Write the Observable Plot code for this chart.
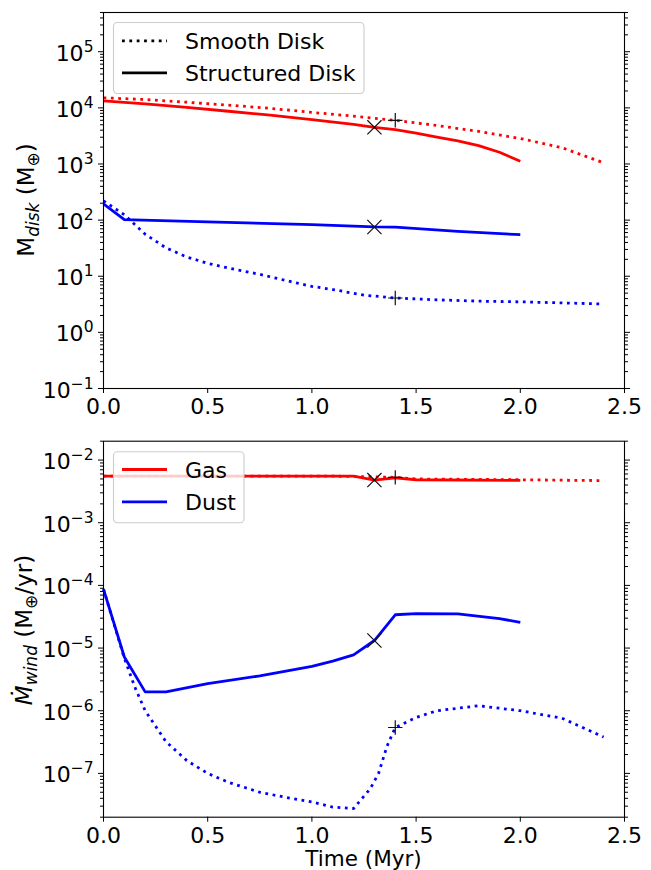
<!DOCTYPE html>
<html><head><meta charset="utf-8">
<script src="https://cdn.jsdelivr.net/npm/d3@7"></script>
<script src="https://cdn.jsdelivr.net/npm/@observablehq/plot@0.6"></script>
<style>
body{margin:0;background:#fff;font-family:"DejaVu Sans",sans-serif}
svg{display:block}
</style>
</head><body><div id="chart"></div>
<script>
// ---------- data ----------
const xTicks = [0, 0.5, 1.0, 1.5, 2.0, 2.5];
const topMajor = [1e-1, 1e0, 1e1, 1e2, 1e3, 1e4, 1e5];
const topDecades = [-1, 0, 1, 2, 3, 4, 5];
const botMajor = [1e-7, 1e-6, 1e-5, 1e-4, 1e-3, 1e-2];
const botDecades = [-8, -7, -6, -5, -4, -3, -2];

// top panel: disk mass
const topGasSmoothT = [0, 0.2, 0.4, 0.6, 0.8, 1.0, 1.2, 1.4, 1.6, 1.8, 2.0, 2.2, 2.4];
const topGasSmoothV = [15100, 14100, 12600, 11200, 9800, 8300, 7100, 6000, 4850, 3800, 2850, 1950, 1050];
const topGasStructT = [0, 0.2, 0.4, 0.6, 0.8, 1.0, 1.2, 1.3, 1.4, 1.5, 1.6, 1.7, 1.8, 1.9, 2.0];
const topGasStructV = [13300, 11750, 10200, 8700, 7400, 6200, 5100, 4500, 4100, 3560, 3020, 2570, 2130, 1620, 1120];
const topDustSmoothT = [0, 0.1, 0.2, 0.3, 0.4, 0.5, 0.6, 0.75, 0.9, 1.0, 1.1, 1.25, 1.4, 1.6, 1.8, 2.0, 2.2, 2.4];
const topDustSmoothV = [220, 125, 56, 32, 22, 17, 14, 10.8, 8, 6.6, 5.8, 4.6, 4.1, 3.8, 3.6, 3.5, 3.35, 3.2];
const topDustStructT = [0, 0.1, 0.5, 1.0, 1.3, 1.4, 1.7, 2.0];
const topDustStructV = [195, 102, 93, 83, 75.5, 75, 63, 55];
const topTimesT = [1.3, 1.3];
const topTimesV = [4500, 75.5];
const topPlusT = [1.4, 1.4];
const topPlusV = [6000, 4.1];

// bottom panel: wind rate
const botGasSmoothT = [0, 0.5, 1.0, 1.2, 1.3, 1.4, 1.5, 2.0, 2.4];
const botGasSmoothV = [5.55e-3, 5.55e-3, 5.55e-3, 5.5e-3, 5.4e-3, 5.3e-3, 5.0e-3, 4.85e-3, 4.7e-3];
const botGasStructT = [0, 0.5, 1.0, 1.2, 1.3, 1.4, 1.5, 2.0];
const botGasStructV = [5.55e-3, 5.55e-3, 5.55e-3, 5.55e-3, 4.8e-3, 5.2e-3, 4.85e-3, 4.75e-3];
const botDustStructT = [0, 0.1, 0.2, 0.3, 0.5, 0.75, 1.0, 1.1, 1.2, 1.3, 1.4, 1.5, 1.7, 1.9, 2.0];
const botDustStructV = [8.7e-5, 7.2e-6, 2.0e-6, 2.0e-6, 2.7e-6, 3.6e-6, 5.1e-6, 6.2e-6, 7.8e-6, 1.32e-5, 3.4e-5, 3.55e-5, 3.5e-5, 2.95e-5, 2.57e-5];
const botDustSmoothT = [0, 0.1, 0.15, 0.2, 0.3, 0.4, 0.5, 0.6, 0.75, 0.9, 1.0, 1.1, 1.2, 1.28, 1.32, 1.36, 1.4, 1.5, 1.6, 1.8, 2.0, 2.2, 2.4];
const botDustSmoothV = [8.7e-5, 6.9e-6, 2.4e-6, 1.0e-6, 3.2e-7, 1.6e-7, 1.0e-7, 7.2e-8, 5.0e-8, 4.0e-8, 3.5e-8, 2.9e-8, 2.75e-8, 5.7e-8, 1.0e-7, 2.7e-7, 5.4e-7, 7.8e-7, 1.0e-6, 1.2e-6, 1.0e-6, 7.6e-7, 3.8e-7];
const botTimesT = [1.3, 1.3];
const botTimesV = [4.8e-3, 1.32e-5];
const botPlusT = [1.4, 1.4];
const botPlusV = [5.3e-3, 5.4e-7];

const topLegendLabels = ["Smooth Disk", "Structured Disk"];
const botLegendLabels = ["Gas", "Dust"];
const xLabelText = "Time (Myr)";

// ---------- styling ----------
const RED = "#ff0000", BLUE = "#0000ff";
const LW = 2.78, DOT = "2.78,4.58";
const FONT = "'DejaVu Sans', sans-serif";
const W = 651;

const zip = (ts, vs) => ts.map((t, i) => ({t, v: vs[i]}));
function supLabel(v) {
  const k = Math.round(Math.log10(v));
  return "10^" + (k < 0 ? "\u2212" + (-k) : String(k));
}
function minorTicks(decades, lo, hi) {
  const out = [];
  for (const d of decades) for (let m = 2; m <= 9; m++) {
    const v = m * Math.pow(10, d);
    if (v >= lo * 0.999 && v <= hi * 1.001) out.push(v);
  }
  return out;
}

function panel(o) {
  const marks = [];
  for (const s of o.series) {
    const opts = {x: "t", y: "v", stroke: s.color, strokeWidth: LW, strokeLinecap: "butt", strokeLinejoin: "round"};
    if (s.dotted) opts.strokeDasharray = DOT;
    marks.push(Plot.line(zip(s.t, s.v), opts));
  }
  marks.push(Plot.dot(o.times, {x: "t", y: "v", symbol: "times", r: 6.5, stroke: "#111", strokeWidth: 1.2}));
  marks.push(Plot.dot(o.plus, {x: "t", y: "v", symbol: "plus", r: 4.7, stroke: "#111", strokeWidth: 1.2}));
  marks.push(Plot.frame({stroke: "black", strokeWidth: 1.1}));
  marks.push(Plot.axisX({ticks: xTicks, tickSize: 5, tickPadding: 5, tickFormat: d3.format(".1f"), label: null}));
  marks.push(Plot.axisY({ticks: o.major, tickSize: 5, tickPadding: 5, tickFormat: supLabel, label: null}));
  marks.push(Plot.axisY({ticks: o.minor, tickSize: 3, tickFormat: () => "", label: null}));
  marks.push(Plot.axisY({anchor: "right", ticks: o.major, tickSize: 5, tickFormat: () => "", label: null}));
  marks.push(Plot.axisY({anchor: "right", ticks: o.minor, tickSize: 3, tickFormat: () => "", label: null}));
  const svg = Plot.plot({
    width: W, height: o.height,
    marginTop: o.marginTop, marginBottom: o.marginBottom, marginLeft: 103, marginRight: 27,
    x: {domain: [0, 2.5]},
    y: {type: "log", domain: o.yDomain},
    style: {fontSize: "22px", fontFamily: FONT, color: "black", background: "white", overflow: "visible"},
    marks
  });
  // superscript tick labels
  svg.querySelectorAll('g[aria-label="y-axis tick label"] text').forEach(t => {
    const s = t.textContent;
    if (!s.includes("^")) return;
    const [b, e] = s.split("^");
    t.textContent = "";
    const ns = "http://www.w3.org/2000/svg";
    const t1 = document.createElementNS(ns, "tspan"); t1.textContent = b; t.appendChild(t1);
    const t2 = document.createElementNS(ns, "tspan"); t2.textContent = e;
    t2.setAttribute("font-size", "15.5px"); t2.setAttribute("dy", "-9"); t.appendChild(t2);
    t.setAttribute("transform", (t.getAttribute("transform") || "") + " translate(0,2)");
  });
  const sel = d3.select(svg);
  // y label
  const yl = sel.append("text").attr("transform", `translate(${o.yLabelX},${o.yLabelY}) rotate(-90)`)
    .attr("text-anchor", "middle").attr("font-size", "23px").attr("fill", "black");
  let shift = 0;
  for (const p of o.yLabel) {
    const ts = yl.append("tspan").text(p.t);
    if (p.italic) ts.attr("font-style", "italic");
    const target = p.sub ? 4.8 : 0;
    if (p.sub) ts.attr("font-size", "17px");
    if (target !== shift) { ts.attr("dy", target - shift); shift = target; }
  }
  // legend
  const g = sel.append("g");
  const b = o.legend;
  g.append("rect").attr("x", b.x).attr("y", b.y).attr("width", b.w).attr("height", b.h).attr("rx", 4)
    .attr("fill", "white").attr("fill-opacity", 0.8).attr("stroke", "#cccccc").attr("stroke-width", 1.1);
  b.items.forEach((it, i) => {
    const y = b.y0 + i * b.dy;
    const ln = g.append("line").attr("x1", 122).attr("x2", 167).attr("y1", y).attr("y2", y)
      .attr("stroke", it.color).attr("stroke-width", LW);
    if (it.dotted) ln.attr("stroke-dasharray", DOT);
    g.append("text").attr("x", 185).attr("y", y).attr("dy", "0.38em").attr("text-anchor", "start")
      .attr("font-size", "22px").attr("fill", "black").text(it.label);
  });
  if (o.xLabel) {
    sel.append("text").attr("x", (103 + W - 27) / 2).attr("y", o.xLabelY).attr("text-anchor", "middle")
      .attr("font-size", "21.5px").attr("fill", "black").text(o.xLabel);
  }
  return svg;
}

const chart = document.getElementById("chart");
chart.appendChild(panel({
  height: 420, marginTop: 12, marginBottom: 32, yDomain: [0.1, 5e5],
  major: topMajor, minor: minorTicks(topDecades, 0.1, 5e5),
  series: [
    {t: topGasSmoothT, v: topGasSmoothV, color: RED, dotted: true},
    {t: topGasStructT, v: topGasStructV, color: RED},
    {t: topDustSmoothT, v: topDustSmoothV, color: BLUE, dotted: true},
    {t: topDustStructT, v: topDustStructV, color: BLUE}
  ],
  times: zip(topTimesT, topTimesV), plus: zip(topPlusT, topPlusV),
  yLabel: [{t: "M"}, {t: "disk", sub: true, italic: true}, {t: " (M"}, {t: "\u2295", sub: true}, {t: ")"}],
  yLabelX: 34, yLabelY: 200,
  legend: {x: 113.5, y: 22.5, w: 250.5, h: 71, y0: 40.8, dy: 32,
    items: [{label: topLegendLabels[0], color: "black", dotted: true}, {label: topLegendLabels[1], color: "black"}]}
}));
chart.appendChild(panel({
  height: 450, marginTop: 20.7, marginBottom: 53.3, yDomain: [2e-8, 2e-2],
  major: botMajor, minor: minorTicks(botDecades, 2e-8, 2e-2),
  series: [
    {t: botGasSmoothT, v: botGasSmoothV, color: RED, dotted: true},
    {t: botGasStructT, v: botGasStructV, color: RED},
    {t: botDustSmoothT, v: botDustSmoothV, color: BLUE, dotted: true},
    {t: botDustStructT, v: botDustStructV, color: BLUE}
  ],
  times: zip(botTimesT, botTimesV), plus: zip(botPlusT, botPlusV),
  yLabel: [{t: "\u1E40", italic: true}, {t: "wind", sub: true, italic: true}, {t: " (M"}, {t: "\u2295", sub: true}, {t: "/yr)"}],
  yLabelX: 32, yLabelY: 210,
  legend: {x: 113.5, y: 31.7, w: 130.5, h: 71, y0: 49.5, dy: 32.3,
    items: [{label: botLegendLabels[0], color: RED}, {label: botLegendLabels[1], color: BLUE}]},
  xLabel: xLabelText, xLabelY: 446
}));
</script>
</body></html>
